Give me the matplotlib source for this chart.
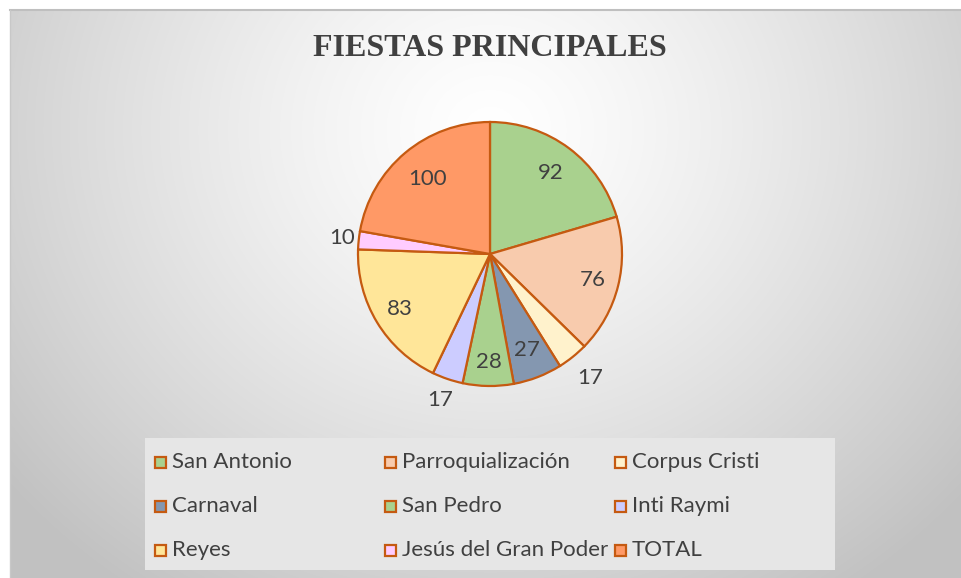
import matplotlib
matplotlib.use("Agg")
import matplotlib.pyplot as plt
import numpy as np
from matplotlib.patches import Rectangle

labels = ["San Antonio", "Parroquialización", "Corpus Cristi", "Carnaval", "San Pedro",
          "Inti Raymi", "Reyes", "Jesús del Gran Poder", "TOTAL"]
values = [92, 76, 17, 27, 28, 17, 83, 10, 100]
colors = ["#A9D18E", "#F8CBAD", "#FFF2CC", "#8497B0", "#A9D18E",
          "#CCCCFF", "#FFE699", "#FFCCFF", "#FF9966"]
# distancia de la etiqueta (en radios); las porciones chicas van afuera
label_dist = [0.77, 0.8, 1.21, 0.78, 0.82, 1.17, 0.8, 1.13, 0.74]

W, H = 961, 578
fig = plt.figure(figsize=(W / 100, H / 100), dpi=100)
fig.patch.set_facecolor("white")

# fondo con degradado radial
bg = fig.add_axes([10 / W, 0, (W - 10) / W, (H - 10) / H])
yy, xx = np.mgrid[0:568, 0:951]
d = np.sqrt(((xx - 480) / 620.0) ** 2 + ((yy - 120) / 560.0) ** 2)
shade = 1.0 - 0.24 * np.clip(d, 0, 1) ** 1.3
bg.imshow(np.dstack([shade] * 3), aspect="auto", extent=(0, 1, 0, 1), origin="upper")
bg.set_axis_off()
fig.add_artist(plt.Line2D([10 / W, 1], [(H - 10) / H] * 2, color="#BFBFBF", lw=1.5))
fig.add_artist(plt.Line2D([10 / W] * 2, [0, (H - 10) / H], color="#C8C8C8", lw=1.0))

fig.text(0.51, (H - 49) / H, "FIESTAS PRINCIPALES", ha="center", va="center",
         fontsize=23, fontweight="bold", family="Liberation Serif", color="#404040")

cx, cy, R = 490, 254, 132
ax = fig.add_axes([(cx - R) / W, (H - cy - R) / H, 2 * R / W, 2 * R / H])
wedges, _ = ax.pie(values, colors=colors, startangle=90, counterclock=False,
                   wedgeprops=dict(edgecolor="#C55A11", linewidth=1.6))
ax.set_xlim(-1, 1)
ax.set_ylim(-1, 1)
for w, v, r in zip(wedges, values, label_dist):
    ang = np.deg2rad((w.theta1 + w.theta2) / 2)
    ax.text(r * np.cos(ang), r * np.sin(ang), str(v), ha="center", va="center",
            fontsize=16, color="#404040", family="Lato", clip_on=False)

# leyenda (3 columnas de ancho igual, como en Excel)
lg = fig.add_axes([145 / W, (H - 570) / H, 690 / W, 132 / H])
lg.set_xlim(0, 690)
lg.set_ylim(132, 0)
lg.set_axis_off()
lg.add_patch(Rectangle((0, 0), 690, 132, facecolor="#E6E6E6", edgecolor="none"))
for i, (lab, col) in enumerate(zip(labels, colors)):
    row, c = divmod(i, 3)
    x0 = 10 + 230 * c
    y0 = 24 + 44 * row
    lg.add_patch(Rectangle((x0, y0 - 5.5), 11, 11, facecolor=col,
                           edgecolor="#C55A11", linewidth=1.6))
    lg.text(x0 + 17, y0, lab, ha="left", va="center", fontsize=16,
            color="#404040", family="Lato")

fig.savefig("out.png", dpi=100)
